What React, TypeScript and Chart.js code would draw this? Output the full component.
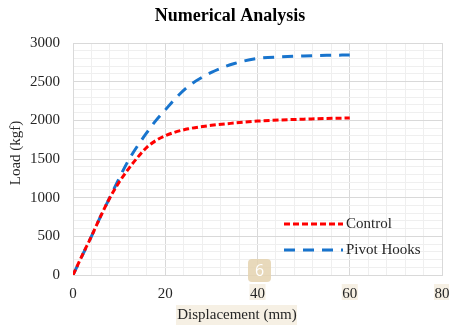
import React, { useEffect, useRef } from "react";
import { Chart, registerables } from "chart.js";

Chart.register(...registerables);

const controlX = [0, 2, 4, 6, 8, 10, 12, 14, 16, 18, 20, 22, 25, 30, 35, 40, 45, 50, 55, 60];
const controlY = [0, 255, 500, 760, 1000, 1200, 1370, 1520, 1650, 1740, 1800, 1845, 1890, 1935, 1965, 1990, 2005, 2015, 2025, 2030];
const pivotX = [0, 2, 4, 6, 8, 10, 12, 14, 16, 18, 20, 22, 25, 30, 35, 40, 45, 50, 55, 60];
const pivotY = [0, 250, 500, 760, 1005, 1250, 1480, 1670, 1840, 2000, 2134, 2270, 2440, 2620, 2735, 2800, 2820, 2832, 2840, 2845];
const seriesNames = ["Control", "Pivot Hooks"];
const chartTitle = "Numerical Analysis";
const xTitle = "Displacement (mm)";
const yTitle = "Load (kgf)";

const SERIF = "'Liberation Serif', 'DejaVu Serif', serif";

export default function App() {
  const ref = useRef<HTMLCanvasElement | null>(null);

  useEffect(() => {
    document.body.style.margin = "0";
    const canvas = ref.current;
    if (!canvas) return;

    const overlay = {
      id: "overlay",
      beforeDraw(chart: any) {
        const ctx = chart.ctx;
        const xs = chart.scales.x;
        ctx.save();
        ctx.fillStyle = "#f6f0e4";
        [40, 60, 80].forEach((v) => {
          const px = xs.getPixelForValue(v);
          ctx.fillRect(px - 8, 284, 16, 16);
        });
        ctx.fillRect(176, 305, 121, 20);
        ctx.restore();
      },
      afterDraw(chart: any) {
        const ctx = chart.ctx;
        ctx.save();
        // title
        ctx.fillStyle = "#000";
        ctx.font = `bold 18px ${SERIF}`;
        ctx.textAlign = "center";
        ctx.textBaseline = "middle";
        ctx.fillText(chartTitle, 230, 16);
        // axis titles
        ctx.fillStyle = "#262626";
        ctx.font = `15px ${SERIF}`;
        ctx.fillText(xTitle, 237, 315);
        ctx.save();
        ctx.translate(16, 153);
        ctx.rotate(-Math.PI / 2);
        ctx.fillText(yTitle, 0, 0);
        ctx.restore();
        // legend
        const items = [
          { name: seriesNames[0], color: "#ff0000", dash: [6, 3], y: 224 },
          { name: seriesNames[1], color: "#1874cd", dash: [11, 8], y: 250 },
        ];
        items.forEach((it) => {
          ctx.beginPath();
          ctx.setLineDash(it.dash);
          ctx.strokeStyle = it.color;
          ctx.lineWidth = 3;
          ctx.moveTo(284, it.y);
          ctx.lineTo(343, it.y);
          ctx.stroke();
          ctx.setLineDash([]);
          ctx.fillStyle = "#262626";
          ctx.font = `15px ${SERIF}`;
          ctx.textAlign = "left";
          ctx.fillText(it.name, 346, it.y);
        });
        // page badge
        ctx.fillStyle = "rgba(228, 210, 175, 0.85)";
        const bx = 248, by = 259, bw = 23, bh = 23, r = 4;
        ctx.beginPath();
        ctx.moveTo(bx + r, by);
        ctx.arcTo(bx + bw, by, bx + bw, by + bh, r);
        ctx.arcTo(bx + bw, by + bh, bx, by + bh, r);
        ctx.arcTo(bx, by + bh, bx, by, r);
        ctx.arcTo(bx, by, bx + bw, by, r);
        ctx.closePath();
        ctx.fill();
        ctx.fillStyle = "#ffffff";
        ctx.font = `16px 'Open Sans', 'DejaVu Sans', sans-serif`;
        ctx.textAlign = "center";
        ctx.fillText("6", bx + bw / 2, by + bh / 2 + 1);
        ctx.restore();
      },
    };

    const chart = new Chart(canvas, {
      type: "line",
      data: {
        datasets: [
          {
            label: seriesNames[0],
            data: controlX.map((x, i) => ({ x, y: controlY[i] })),
            borderColor: "#ff0000",
            borderWidth: 3,
            borderDash: [6, 3],
            pointRadius: 0,
            cubicInterpolationMode: "monotone",
            fill: false,
          },
          {
            label: seriesNames[1],
            data: pivotX.map((x, i) => ({ x, y: pivotY[i] })),
            borderColor: "#1874cd",
            borderWidth: 3,
            borderDash: [11, 8],
            pointRadius: 0,
            cubicInterpolationMode: "monotone",
            fill: false,
          },
        ],
      },
      options: {
        responsive: false,
        animation: false,
        layout: { padding: { top: 43, right: 7, left: 0, bottom: 0 } },
        plugins: {
          legend: { display: false },
          title: { display: false },
          tooltip: { enabled: false },
        },
        scales: {
          x: {
            type: "linear",
            min: 0,
            max: 80,
            afterFit: (s: any) => {
              s.height = 51;
              s.paddingLeft = 0;
              s.paddingRight = 0;
            },
            ticks: {
              stepSize: 4,
              autoSkip: false,
              maxRotation: 0,
              padding: 10,
              color: "#262626",
              font: { family: SERIF, size: 15 },
              callback: (v: any) => (Number(v) % 20 === 0 ? String(v) : ""),
            },
            grid: {
              drawTicks: false,
              color: (c: any) => (c.tick && c.tick.value % 20 === 0 ? "#d9d9d9" : "#efefef"),
              lineWidth: 1,
            },
            border: { color: "#d9d9d9" },
          },
          y: {
            type: "linear",
            min: 0,
            max: 3000,
            afterFit: (s: any) => {
              s.width = 73;
              s.paddingTop = 0;
              s.paddingBottom = 0;
            },
            ticks: {
              stepSize: 100,
              autoSkip: false,
              padding: 13,
              color: "#262626",
              font: { family: SERIF, size: 15 },
              callback: (v: any) => (Number(v) % 500 === 0 ? String(v) : ""),
            },
            grid: {
              drawTicks: false,
              color: (c: any) => (c.tick && c.tick.value % 500 === 0 ? "#d9d9d9" : "#efefef"),
              lineWidth: 1,
            },
            border: { color: "#d9d9d9" },
          },
        },
      },
      plugins: [overlay],
    });

    return () => chart.destroy();
  }, []);

  return (
    <div style={{ width: 449, height: 326, background: "#fff" }}>
      <canvas ref={ref} width={449} height={326} style={{ display: "block" }} />
    </div>
  );
}
